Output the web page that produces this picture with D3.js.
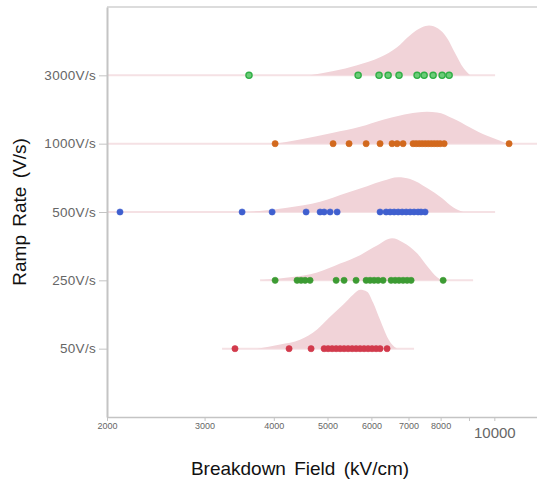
<!DOCTYPE html>
<html>
<head>
<meta charset="utf-8">
<script src="https://cdn.jsdelivr.net/npm/d3@7"></script>
<style>
  body { margin: 0; background: #fff; }
  .axis text { font-family: "Liberation Sans", Arial, sans-serif; fill: #666; }
  .axis path, .axis line { stroke: #c4c4c4; }
</style>
</head>
<body>
<div class="rampChart"></div>
<script>
// ramp rate rows, top to bottom
const rampRates = ['3000V/s', '1000V/s', '500V/s', '250V/s', '50V/s'];
const dotColors = ['#2fae45', '#d2691e', '#3f5fcf', '#3c9b33', '#d23a4c'];

// breakdown field of each sample (kV/cm)
const field3000 = [3608, 5678, 6194, 6432, 6730, 7254, 7470, 7754, 8050, 8288];
const field1000 = [4022, 5117, 5468, 5870, 6220, 6538, 6676, 6844, 7134, 7224, 7316,
                   7406, 7500, 7594, 7690, 7786, 7884, 7984, 8118, 10632];
const field500 = [2111, 3506, 3972, 4574, 4848, 4930, 5054, 5204, 6220, 6378, 6486,
                  6594, 6706, 6818, 6932, 7048, 7164, 7284, 7374, 7500];
const field250 = [4022, 4406, 4480, 4556, 4650, 5182, 5356, 5630, 5870, 5968, 6068,
                  6170, 6298, 6512, 6622, 6730, 6844, 6960, 7076, 8084];
const field50 = [3404, 4262, 4670, 4930, 5012, 5096, 5182, 5268, 5356, 5446, 5538,
                 5630, 5724, 5820, 5918, 6016, 6118, 6220, 6404];

// density outline [field, relative density]
const density3000 = [[4650, 0], [5654, .17], [6220, .30], [6676, .47], [7048, .67], [7406, .80],
                     [7624, .83], [7916, .78], [8220, .62], [8498, .37], [8784, .13], [9042, 0]];
const density1000 = [[4022, 0], [4460, .07], [5117, .18], [5724, .28], [6298, .40], [6762, .47],
                     [7254, .52], [7562, .53], [7884, .52], [8424, .42], [9042, .27], [9704, .13],
                     [10242, .05], [10544, 0]];
const density500 = [[3624, 0], [4226, .07], [4848, .17], [5424, .32], [5894, .43], [6298, .52],
                    [6706, .58], [7048, .55], [7562, .40], [8050, .23], [8424, .08], [8784, 0]];
const density250 = [[3778, 0], [4280, .05], [4788, .13], [5268, .28], [5724, .42], [6142, .58],
                    [6538, .70], [6844, .63], [7254, .45], [7594, .22], [7884, .05], [8050, 0]];
const density50 = [[3732, 0], [4106, .07], [4460, .15], [4788, .32], [5054, .53], [5334, .73],
                   [5560, .90], [5724, .98], [5894, .95], [6042, .77], [6220, .48], [6404, .20],
                   [6538, .07], [6676, 0]];

// extent of the faint baseline under each row
const baseStart = [2000, 2000, 2000, 3778, 3226];
const baseEnd = [10032, 11940, 10032, 9156, 7164];

const xTicks = [2000, 3000, 4000, 5000, 6000, 7000, 8000, 9000, 10000];

const fields = [field3000, field1000, field500, field250, field50];
const densities = [density3000, density1000, density500, density250, density50];

const margin = ({top: 7, right: 0, bottom: 62, left: 107});
const width = 537 - margin.left - margin.right;
const height = 479 - margin.top - margin.bottom;

const root = d3.select('.rampChart')
    .append('svg')
    .attr('width', 537)
    .attr('height', 479);

const svg = root.append('g')
    .attr('transform', `translate(${margin.left}, ${margin.top})`);

const xScale = d3.scaleLog()
    .domain([2000, 11940])
    .range([0, width]);

const yScale = d3.scalePoint()
    .domain(rampRates)
    .range([0, height])
    .padding(1);

const densScale = d3.scaleLinear()
    .domain([0, 1])
    .range([0, 60]);

// frame: top line
svg.append('line')
    .attr('x1', 0).attr('x2', width)
    .attr('y1', 0).attr('y2', 0)
    .attr('stroke', '#d0d0d0').attr('stroke-width', 1.5);

rampRates.forEach((rate, i) => {
    const y0 = yScale(rate);

    svg.append('line')
        .attr('x1', xScale(baseStart[i]))
        .attr('x2', xScale(baseEnd[i]))
        .attr('y1', y0).attr('y2', y0)
        .attr('stroke', '#f5e1e4')
        .attr('stroke-width', 2);

    const area = d3.area()
        .x(d => xScale(d[0]))
        .y0(y0)
        .y1(d => y0 - densScale(d[1]))
        .curve(d3.curveMonotoneX);

    svg.append('path')
        .datum(densities[i])
        .attr('d', area)
        .attr('fill', '#f1d3d8');

    svg.append('g')
        .selectAll('circle')
        .data(fields[i])
        .enter()
        .append('circle')
        .attr('cx', d => xScale(d))
        .attr('cy', y0)
        .attr('r', 3.1)
        .attr('fill', i === 0 ? '#6ccc78' : dotColors[i])
        .attr('stroke', dotColors[i])
        .attr('stroke-width', i === 0 ? 1.3 : 0.6);
});

const xAxis = d3.axisBottom(xScale)
    .tickValues(xTicks)
    .tickSize(4)
    .tickSizeOuter(0)
    .tickFormat(d => d === 9000 ? '' : d);

const gx = svg.append('g')
    .attr('class', 'axis x-axis')
    .attr('transform', `translate(0, ${height})`)
    .call(xAxis);

gx.select('.domain').attr('stroke-width', 1.5);
gx.selectAll('.tick text')
    .attr('font-size', 9)
    .attr('dy', '0.6em');
gx.selectAll('.tick text')
    .filter(d => d === 10000)
    .attr('font-size', 15)
    .attr('dy', '0.95em');

const yAxis = d3.axisLeft(yScale)
    .tickSize(8)
    .tickSizeOuter(0)
    .tickPadding(3);

const gy = svg.append('g')
    .attr('class', 'axis y-axis')
    .call(yAxis);

gy.select('.domain').attr('stroke-width', 2);
gy.selectAll('.tick text')
    .attr('font-size', 13.5)
    .attr('letter-spacing', '0.3px');

root.append('text')
    .attr('x', 300)
    .attr('y', 475)
    .attr('text-anchor', 'middle')
    .attr('font-family', 'Liberation Sans, Arial, sans-serif')
    .attr('font-size', 19)
    .attr('word-spacing', '3px')
    .attr('fill', '#111')
    .text('Breakdown Field (kV/cm)');

root.append('text')
    .attr('transform', 'translate(26, 212) rotate(-90)')
    .attr('text-anchor', 'middle')
    .attr('font-family', 'Liberation Sans, Arial, sans-serif')
    .attr('font-size', 19)
    .attr('word-spacing', '3px')
    .attr('fill', '#111')
    .text('Ramp Rate (V/s)');
</script>
</body>
</html>
